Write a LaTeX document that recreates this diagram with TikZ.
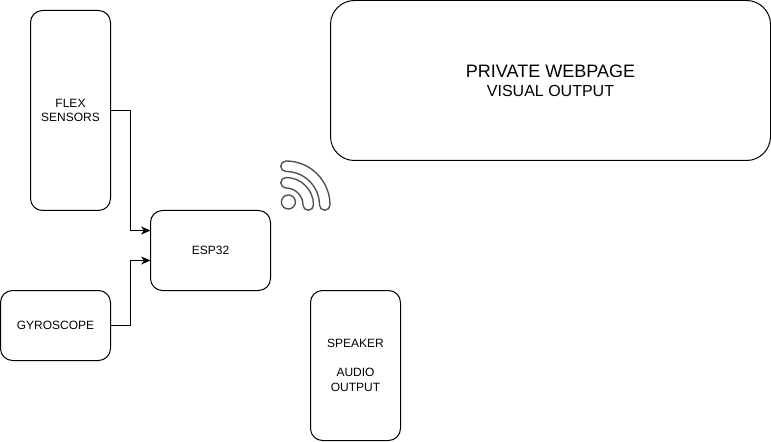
\documentclass[tikz,border=0pt]{standalone}
\usepackage{fontspec}
\setmainfont{Liberation Sans}
\usetikzlibrary{arrows.meta}
\tikzset{
 box/.style={draw=black,fill=white,line width=0.75pt,rounded corners=#1,inner sep=0pt,align=center,font=\fontsize{9}{11}\selectfont},
 box/.default=9pt,
 link/.style={draw=black,line width=0.75pt,-{Stealth[length=7pt,width=6pt,inset=2pt]},rounded corners=0pt},
 wifi/.style={draw=black!70,line width=1pt,fill=white,line join=round}
}
\begin{document}
\begin{tikzpicture}[x=0.75pt,y=-0.75pt]
\useasboundingbox (0,0) rectangle (771,442);
\node[box,minimum width=60pt,minimum height=150pt] (flex) at (70.5,110.5) {FLEX\\SENSORS};
\node[box,minimum width=82.5pt,minimum height=52.5pt] (gyro) at (55.5,325.5) {GYROSCOPE};
\node[box,minimum width=90pt,minimum height=60pt] (esp) at (210.5,250.5) {ESP32};
\node[box,minimum width=67.5pt,minimum height=112.5pt] (spk) at (355.5,365.5) {SPEAKER\\[\baselineskip]AUDIO\\OUTPUT};
\node[box=18pt,minimum width=330pt,minimum height=120pt,font=\fontsize{12}{14}\selectfont] (web) at (550.5,80.5) {{\fontsize{13.5}{15}\selectfont PRIVATE WEBPAGE}\\VISUAL OUTPUT};
\coordinate (e1) at (150.5,230.5);
\coordinate (e2) at (150.5,260.5);
\draw[link] (flex.east |- 0,110.5) -- (130.5,110.5) -- (130.5,230.5) -- (e1);
\draw[link] (gyro.east) -- (130.5,325.5) -- (130.5,260.5) -- (e2);
\draw[wifi] (288.4,202) circle (7);
\draw[wifi] (286,161) arc (-90:0:44) arc (0:180:5.25) arc (0:-90:33.5) arc (90:270:5.25) -- cycle;
\draw[wifi] (286,177.5) arc (-90:0:27.5) arc (0:180:5.25) arc (0:-90:17) arc (90:270:5.25) -- cycle;
\end{tikzpicture}
\end{document}
